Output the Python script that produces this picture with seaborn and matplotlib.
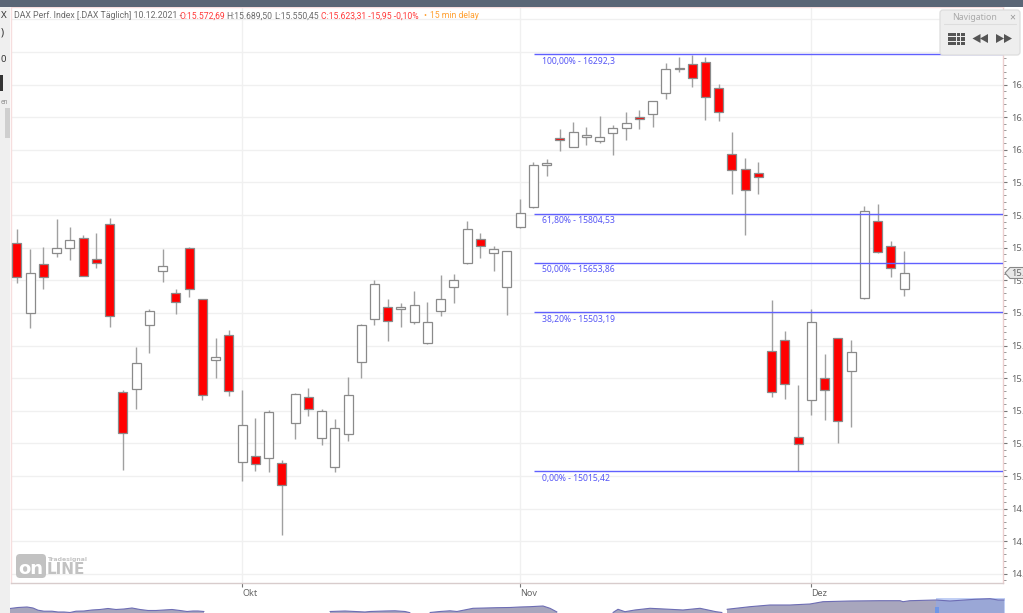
import numpy as np
import pandas as pd
import matplotlib
matplotlib.use("Agg")
import matplotlib.pyplot as plt
from matplotlib.patches import Rectangle, FancyBboxPatch, Polygon
from matplotlib.ticker import MultipleLocator, FuncFormatter
import seaborn as sns

# ---------- data ----------
candle_high = [15756,15695,15703,15788,15763,15740,15744,15792,15263,15396,15511,15696,15574,15703,15542,15422,15448,
               15264,15177,15202,15049,15254,15269,15205,15175,15303,15466,15601,15542,15530,15568,15533,15616,15618,
               15781,15745,15705,15689,15849,15962,15973,16065,16085,16069,16104,16076,16115,16122,16150,16267,16284,
               16292,16284,16203,16056,15975,15963,15540,15444,15279,15511,15374,15422,15417,15828,15834,15721,15689.5]
candle_open = [15714,15501,15650,15683,15698,15731,15666,15774,15258,15266,15463,15628,15562,15698,15542,15357,15433,
               15042,15062,15056,15040,15162,15242,15116,15027,15130,15351,15482,15518,15512,15472,15407,15507,15580,
               15652,15726,15683,15580,15764,15825,15954,16037,16010,16040,16027,16053,16066,16101,16110,16173,16247,
               16262,16269,16188,15986,15942,15929,15383,15417,15119,15233,15300,15422,15323,15546,15781,15705,15572.69]
candle_close = [15611,15622,15611,15700,15723,15614,15652,15492,15132,15347,15507,15643,15533,15573,15249,15365,15261,
                15157,15038,15195,14972,15252,15205,15198,15146,15249,15464,15588,15474,15517,15523,15473,15544,15600,
                15758,15704,15695,15689,15806,15953,15961,16029,16056,16046,16040,16067,16083,16094,16149,16248,16250,
                16220,16161,16115,15937,15878,15917,15257,15281,15099,15473,15264,15170,15381,15813,15687,15639,15623.31]
candle_low = [15591,15454,15573,15672,15662,15614,15638,15456,15018,15205,15378,15594,15498,15550,15232,15301,15246,
              14984,15016,15011,14819,15114,15184,15094,15011,15108,15301,15464,15414,15456,15466,15406,15491,15531,
              15650,15669,15628,15494,15759,15823,15921,15996,16008,16015,16022,15985,16031,16063,16070,16155,16240,
              16193,16092,16088,15866,15739,15866,15243,15236,15015.42,15186,15172,15101,15150,15544,15685,15611,15550.45]

month_labels = ["Okt", "Nov", "Dez"]
month_index = [17, 38, 60]

fib_levels = [16292.3, 15804.53, 15653.86, 15503.19, 15015.42]
fib_labels = ["100,00% - 16292,3", "61,80% - 15804,53", "50,00% - 15653,86",
              "38,20% - 15503,19", "0,00% - 15015,42"]
fib_start_index = 39.05

overview_pos = [10,18,27,33,38,44,52,58,64,70,76,84,92,100,108,116,124,132,140,148,156,164,172,180,187,193,198,204,207,
                325,330,345,355,365,370,385,395,405,410,412,
                428,430,440,450,457,473,485,497,510,520,530,543,550,557,560,
                612,613,618,625,635,650,670,683,700,716,722,724,727,750,770,790,810,823,850,880,900,903,910,936,950,975,990,998,1004]
overview_val = [4.5,5.5,6,5,2.8,1.8,1.8,1,1,0.5,1.8,2,3,3.5,4.5,3.5,4,5,3.5,2.5,2.5,3,3.5,2.5,1.5,2,2,1.5,0,
                0,1.5,2,1.5,1,1.5,2,2.2,1.5,0.3,0,
                0,0.5,1.5,2.2,1.5,4.7,5,5.3,5.5,6,6.3,7,4.7,1,0,
                0,0.5,3.7,1.3,3,4.7,3.7,3,4.7,1.3,0.5,0,3.7,6.3,8,8,9,11.3,12,12.3,12.3,11.3,12.3,13,12,13.7,14.3,13,13]

# ---------- figure ----------
sns.set_theme(style="white")
plt.rcParams["font.family"] = ["Noto Sans", "DejaVu Sans"]
W, H = 1023, 613
fig = plt.figure(figsize=(W / 100, H / 100), dpi=100, facecolor="white")
ax = fig.add_axes([11 / W, (H - 583) / H, (1003 - 11) / W, 576 / H])
ax.set_facecolor("white")

df = pd.DataFrame({"i": np.arange(len(candle_open)), "o": candle_open, "c": candle_close,
                   "h": candle_high, "l": candle_low})
df["lower"] = df[["o", "c"]].min(axis=1)
df["body"] = (df["o"] - df["c"]).abs()
df["down"] = df["o"] > df["c"]

ax.vlines(df["i"], df["l"], df["h"], color="#a0a0a0", lw=1.0, zorder=3)
for down, fill in [(False, "white"), (True, "#ff0000")]:
    sub = df[df["down"] == down]
    sns.barplot(data=sub, x="i", y="body", bottom=sub["lower"].to_numpy(), native_scale=True,
                errorbar=None, color=fill, saturation=1, width=0.68, edgecolor="#8a8a8a",
                linewidth=0.9, ax=ax, zorder=4, legend=False)

ax.set_xlim(-0.453, 74.47)
ax.set_ylim(14672.1, 16437.8)
ax.set_xlabel("")
ax.set_ylabel("")

# grid + axes: the reference cuts its price labels at the window edge after the first digits
ax.set_axisbelow(True)
ax.yaxis.set_major_locator(MultipleLocator(100))
ax.yaxis.set_minor_locator(MultipleLocator(20))
ax.yaxis.set_major_formatter(FuncFormatter(lambda v, _: f"{int(v // 1000)}." if v < 16250 else ""))
ax.yaxis.tick_right()
ax.set_xticks(month_index, month_labels)
ax.grid(True, which="major", color="#f0f0f0", lw=1.0)
ax.tick_params(axis="y", which="major", length=3, width=0.8, color="#777777", labelcolor="#666666",
               labelsize=6.8, pad=3, right=True, left=False)
ax.tick_params(axis="y", which="minor", length=2, width=0.7, color="#999999", right=True, left=False)
ax.tick_params(axis="x", length=3, width=0.8, color="#777777", labelcolor="#666666", labelsize=6.5, pad=1, bottom=True)
for lab in ax.get_xticklabels():
    lab.set_ha("left")
for side, col in [("left", "#f6dede"), ("top", "#f6dede"), ("right", "#eccfcf"), ("bottom", "#d8cccc")]:
    ax.spines[side].set_color(col)
    ax.spines[side].set_linewidth(1.0)
    ax.spines[side].set_visible(True)

# fibonacci levels
ax.hlines(fib_levels, fib_start_index, 74.47, color="#6060ff", lw=1.0, zorder=5)
for lev, lab in zip(fib_levels, fib_labels):
    ax.annotate(lab, xy=(fib_start_index, lev), xytext=(5.8, -5.2), textcoords="offset points",
                color="#5555f5", fontsize=6.2, va="center", ha="left", zorder=6)

# ---------- overview strip ----------
ov = fig.add_axes([0, 0, 1, 23 / H])
ov.patch.set_alpha(0)
ov_df = pd.DataFrame({"pos": overview_pos, "val": overview_val})
ov.fill_between(ov_df["pos"], 0, ov_df["val"], where=ov_df["val"] > 0, color="#a8a6bd", lw=0)
ov.plot(ov_df["pos"], ov_df["val"].where(ov_df["val"] > 0), color="#6d6db4", lw=0.8)
ov.add_patch(Rectangle((936, 0), 69, 15.5, facecolor="#8fa8ec", alpha=0.55, lw=0))
ov.add_patch(Rectangle((935, 0), 3.5, 6.5, facecolor="#6f96e6", lw=0))
ov.set_xlim(0, W)
ov.set_ylim(0, 23)
ov.axis("off")

# ---------- application chrome (pixel coordinates) ----------
ui = fig.add_axes([0, 0, 1, 1], zorder=10)
ui.set_xlim(0, W)
ui.set_ylim(H, 0)
ui.axis("off")
ui.patch.set_alpha(0)
ui.add_patch(Rectangle((0, 0), W, 6.5, facecolor="#5a6676", lw=0))
ui.add_patch(Rectangle((0, 6.5), 10, H, facecolor="#efefef", lw=0))
ui.add_patch(Rectangle((4.5, 108), 5.5, 30, facecolor="#cfcfcf", lw=0))
ui.add_patch(Rectangle((0, 75), 3, 16, facecolor="#333333", lw=0))
for t, y, fs, c in [("X", 15, 7, "#333333"), (")", 33, 7.5, "#333333"), ("0", 60, 6.8, "#333333"), ("en", 103, 4.5, "#888888")]:
    ui.text(0.5, y, t, fontsize=fs, color=c, va="center", ha="left")

hy = 16
hfs = 6.2
hfam = ["Roboto", "DejaVu Sans"]
ui.text(14.5, hy, "DAX Perf. Index [.DAX Täglich] 10.12.2021 -", color="#6b6b6b", fontsize=hfs + 0.15, va="center", family=hfam)
ui.text(179, hy, "O:15.572,69", color="#ff3b3b", fontsize=hfs, va="center", family=hfam)
ui.text(226.7, hy, "H:15.689,50", color="#6b6b6b", fontsize=hfs, va="center", family=hfam)
ui.text(274, hy, "L:15.550,45", color="#6b6b6b", fontsize=hfs, va="center", family=hfam)
ui.text(320.7, hy, "C:15.623,31 -15,95 -0,10%", color="#ff3b3b", fontsize=hfs, va="center", family=hfam)
ui.text(423, hy, "•", color="#ffa030", fontsize=hfs, va="center", family=hfam)
ui.text(430, hy, "15 min delay", color="#ffa030", fontsize=hfs, va="center", family=hfam)

# navigation panel
ui.add_patch(FancyBboxPatch((942, 12), 76, 41, boxstyle="round,pad=2,rounding_size=3",
                            facecolor="#eeeeee", edgecolor="#dddddd", lw=0.9))
ui.text(975, 17, "Navigation", color="#aaaaaa", fontsize=6.3, ha="center", va="center")
ui.text(1012, 17.5, "×", color="#999999", fontsize=7.5, ha="center", va="center", fontweight="bold")
ui.plot([944, 1016], [24, 24], color="#dddddd", lw=0.8)
for r in range(3):
    for c in range(4):
        ui.add_patch(Rectangle((948 + c * 4.4, 32.5 + r * 4.5), 3.6, 3.6, facecolor="#555555", lw=0))
for tip, d in [(972.5, 1), (980, 1), (1012, -1), (1004, -1)]:
    ui.add_patch(Polygon([(tip, 38.5), (tip + d * 8, 34), (tip + d * 8, 43)], facecolor="#555555", lw=0))

# last-price flag
ui.add_patch(Polygon([(1005, 273), (1010, 267.5), (1024, 267.5), (1024, 278.5), (1010, 278.5)],
                     facecolor="#e8e8e8", edgecolor="#888888", lw=0.8))
ui.text(1011.5, 273, "15.", color="#666666", fontsize=6.8, va="center", ha="left")

# logo
bold = ["DejaVu Sans"]
ui.add_patch(FancyBboxPatch((18, 556), 26, 20, boxstyle="round,pad=2,rounding_size=4", facecolor="#c2c2c2", lw=0))
ui.text(31, 568.5, "on", color="white", fontsize=13, fontweight="bold", ha="center", va="center", family=bold)
ui.text(47.5, 560, "Tradesignal", color="#c4c4c4", fontsize=4.4, fontweight="bold", ha="left", va="center", family=bold)
ui.text(46.5, 569, "LINE", color="#c2c2c2", fontsize=11, fontweight="bold", ha="left", va="center", family=bold)

fig.savefig("out.png", dpi=100)
